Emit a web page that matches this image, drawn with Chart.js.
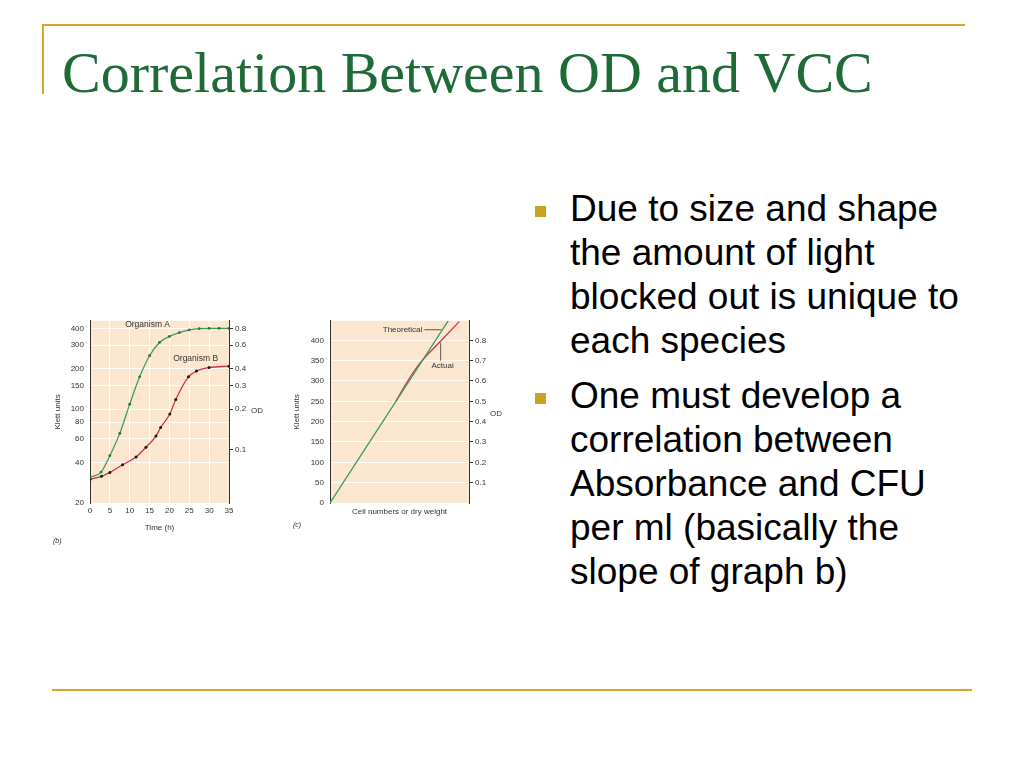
<!DOCTYPE html>
<html>
<head>
<meta charset="utf-8">
<script src="https://cdn.jsdelivr.net/npm/chart.js@4.4.1/dist/chart.umd.min.js"></script>
<style>
  body { margin: 0; background: #fff; }
  #slide { position: relative; width: 1024px; height: 768px; overflow: hidden; background: #fff; }
  .rule { position: absolute; background: #D6A62A; }
  #title { position: absolute; left: 62px; top: 41px; font-family: "Liberation Serif", "DejaVu Serif", serif;
           font-size: 58px; line-height: 64px; color: #1E6B38; white-space: nowrap; }
  #bullets { position: absolute; left: 570px; top: 187px; font-family: "Liberation Sans", Arial, sans-serif;
             font-size: 37px; line-height: 44px; color: #000; white-space: nowrap; }
  #bullets p { margin: 0 0 11px 0; position: relative; }
  #bullets p::before { content: ""; position: absolute; left: -35px; top: 19px; width: 11px; height: 11px; background: #C9A123; }
  canvas { position: absolute; }
</style>
</head>
<body>
<div id="slide">
  <div class="rule" style="left:42px; top:24px; width:923px; height:2px;"></div>
  <div class="rule" style="left:42px; top:24px; width:2px; height:70px;"></div>
  <div class="rule" style="left:52px; top:689px; width:920px; height:2px;"></div>
  <div id="title">Correlation Between OD and VCC</div>
  <div id="bullets">
    <p>Due to size and shape<br>the amount of light<br>blocked out is unique to<br>each species</p>
    <p>One must develop a<br>correlation between<br>Absorbance and CFU<br>per ml (basically the<br>slope of graph b)</p>
  </div>
  <canvas id="chartB" width="230" height="240" style="left:40px; top:310px;"></canvas>
  <canvas id="chartC" width="240" height="230" style="left:280px; top:310px;"></canvas>
</div>
<script>
// graph (b): growth curves, Klett units (log) vs time
const timeA = [0, 2.8, 5, 7.5, 10, 12.5, 15, 17.5, 20, 22.5, 25, 27.5, 30, 32.5, 35];
const klettA = [31, 34, 45, 66, 109, 174, 250, 314, 348, 372, 389, 398, 400, 400, 400];
const timeB = [0, 2.9, 5, 8.2, 11.6, 14.1, 16.6, 17.8, 20.1, 21.6, 24.8, 26.8, 30, 35];
const klettB = [30, 31.6, 33.8, 38.5, 44, 52, 63, 73, 92, 118, 174, 192, 204, 209];
const bTimeTicks = [0, 5, 10, 15, 20, 25, 30, 35];
const bKlettTicks = [20, 40, 60, 80, 100, 150, 200, 300, 400];
const bOdTicks = [0.1, 0.2, 0.3, 0.4, 0.6, 0.8];

// graph (c): Klett units vs cell numbers
const cellTheo = [0, 85];
const klettTheo = [0, 448];
const cellActual = [0, 47.4, 55, 65, 79, 93];
const klettActual = [0, 250, 295, 345, 396, 446];
const cKlettTicks = [0, 50, 100, 150, 200, 250, 300, 350, 400];
const cOdTicks = [0.1, 0.2, 0.3, 0.4, 0.5, 0.6, 0.7, 0.8];

const PEACH = '#FBE7D0';
const GRID = 'rgba(255,255,255,0.85)';
const GREEN = '#3E9C5C';
const RED = '#CC3547';
const INK = '#333';
const FONT = { family: '"Liberation Sans", Arial, sans-serif', size: 8 };

const pts = (xs, ys) => xs.map((x, i) => ({ x: x, y: ys[i] }));
const fixTicks = arr => scale => { scale.ticks = arr.map(v => ({ value: v })); };

function drawText(ctx, txt, x, y, opts) {
    opts = opts || {};
    ctx.save();
    ctx.font = (opts.italic ? 'italic ' : '') + (opts.size || 8) + 'px "Liberation Sans", Arial, sans-serif';
    ctx.fillStyle = INK;
    ctx.textAlign = opts.align || 'center';
    ctx.textBaseline = 'middle';
    ctx.translate(x, y);
    if (opts.rotate) ctx.rotate(opts.rotate);
    ctx.fillText(txt, 0, 0);
    ctx.restore();
}

const peachBg = {
    id: 'peachBg',
    beforeDraw(chart) {
        const a = chart.chartArea, ctx = chart.ctx;
        ctx.save();
        ctx.fillStyle = PEACH;
        ctx.fillRect(a.left, a.top, a.right - a.left, a.bottom - a.top);
        ctx.restore();
    }
};

function axisStyle(extra) {
    return Object.assign({
        border: { display: true, color: INK, width: 1 },
        ticks: { color: INK, font: FONT, padding: 6, autoSkip: false, callback: v => String(v) }
    }, extra);
}

// ---- chart (b)
new Chart(document.getElementById('chartB'), {
    type: 'line',
    data: {
        datasets: [
            { data: pts(timeA, klettA), borderColor: GREEN, borderWidth: 1.3, pointRadius: 1.4,
              pointBackgroundColor: '#2F6F45', pointBorderWidth: 0, cubicInterpolationMode: 'monotone' },
            { data: pts(timeB, klettB), borderColor: RED, borderWidth: 1.3, pointRadius: 1.5,
              pointBackgroundColor: '#1a1a1a', pointBorderWidth: 0, cubicInterpolationMode: 'monotone' }
        ]
    },
    options: {
        responsive: false, animation: false,
        layout: { padding: { top: 8 } },
        plugins: { legend: { display: false }, tooltip: { enabled: false } },
        scales: {
            x: axisStyle({
                type: 'linear', min: 0, max: 35,
                border: { display: false },
                grid: { color: GRID, drawTicks: false },
                ticks: { color: INK, font: FONT, padding: 3, autoSkip: false, callback: v => String(v) },
                afterBuildTicks: fixTicks(bTimeTicks),
                afterFit: s => { s.height = 47; }
            }),
            y: axisStyle({
                type: 'logarithmic', position: 'left', min: 20, max: 455,
                grid: { color: GRID, drawTicks: false },
                afterBuildTicks: fixTicks(bKlettTicks),
                afterFit: s => { s.width = 50; }
            }),
            od: axisStyle({
                type: 'logarithmic', position: 'right', min: 20 / 500, max: 455 / 500,
                grid: { drawOnChartArea: false, color: INK, tickLength: 4 },
                ticks: { color: INK, font: FONT, padding: 2, autoSkip: false, callback: v => String(v) },
                afterBuildTicks: fixTicks(bOdTicks),
                afterFit: s => { s.width = 41; }
            })
        }
    },
    plugins: [peachBg, {
        id: 'labelsB',
        afterDraw(chart) {
            const ctx = chart.ctx, a = chart.chartArea, x = chart.scales.x, y = chart.scales.y;
            drawText(ctx, 'Organism A', x.getPixelForValue(14.5), y.getPixelForValue(428), { size: 8.5 });
            drawText(ctx, 'Organism B', x.getPixelForValue(26.6), y.getPixelForValue(238), { size: 8.5 });
            drawText(ctx, 'Klett units', 18, (a.top + a.bottom) / 2, { rotate: -Math.PI / 2 });
            drawText(ctx, 'OD', a.right + 28, chart.scales.od.getPixelForValue(0.2) + 2);
            drawText(ctx, 'Time (h)', (a.left + a.right) / 2, a.bottom + 25);
            drawText(ctx, '(b)', 13, a.bottom + 38, { italic: true, size: 7, align: 'left' });
        }
    }]
});

// ---- chart (c)
new Chart(document.getElementById('chartC'), {
    type: 'line',
    data: {
        datasets: [
            { data: pts(cellTheo, klettTheo), borderColor: GREEN, borderWidth: 1.3, pointRadius: 0, tension: 0 },
            { data: pts(cellActual, klettActual), borderColor: RED, borderWidth: 1.3, pointRadius: 0,
              cubicInterpolationMode: 'monotone',
              segment: { borderColor: c => c.p0DataIndex === 0 ? 'rgba(0,0,0,0)' : RED } }
        ]
    },
    options: {
        responsive: false, animation: false,
        layout: { padding: { top: 7 } },
        plugins: { legend: { display: false }, tooltip: { enabled: false } },
        scales: {
            x: {
                type: 'linear', min: 0, max: 100,
                border: { display: false },
                grid: { display: false },
                ticks: { display: false },
                afterFit: s => { s.height = 37; }
            },
            y: axisStyle({
                type: 'linear', position: 'left', min: 0, max: 448,
                grid: { color: GRID, drawTicks: false },
                afterBuildTicks: fixTicks(cKlettTicks),
                afterFit: s => { s.width = 50; }
            }),
            od: axisStyle({
                type: 'linear', position: 'right', min: 0, max: 448 / 500,
                grid: { drawOnChartArea: false, color: INK, tickLength: 4 },
                ticks: { color: INK, font: FONT, padding: 2, autoSkip: false, callback: v => String(v) },
                afterBuildTicks: fixTicks(cOdTicks),
                afterFit: s => { s.width = 51; }
            })
        }
    },
    plugins: [peachBg, {
        id: 'labelsC',
        afterDraw(chart) {
            const ctx = chart.ctx, a = chart.chartArea, x = chart.scales.x, y = chart.scales.y;
            // Theoretical label with leader to the green line
            const ty = y.getPixelForValue(426);
            const tx = x.getPixelForValue(85 * 426 / 448);
            drawText(ctx, 'Theoretical', tx - 20, ty, { align: 'right' });
            // Actual label with vertical leader down from the red curve
            const ax = x.getPixelForValue(79.6);
            drawText(ctx, 'Actual', ax + 2, y.getPixelForValue(337));
            ctx.save();
            ctx.strokeStyle = INK; ctx.lineWidth = 0.8;
            ctx.beginPath();
            ctx.moveTo(tx - 18, ty); ctx.lineTo(tx - 1, ty);
            ctx.moveTo(ax, y.getPixelForValue(394)); ctx.lineTo(ax, y.getPixelForValue(350));
            ctx.stroke();
            ctx.restore();
            drawText(ctx, 'Klett units', 17, (a.top + a.bottom) / 2, { rotate: -Math.PI / 2 });
            drawText(ctx, 'OD', a.right + 27, chart.scales.od.getPixelForValue(0.45) + 2);
            drawText(ctx, 'Cell numbers or dry weight', (a.left + a.right) / 2, a.bottom + 9);
            drawText(ctx, '(c)', 13, a.bottom + 22, { italic: true, size: 7, align: 'left' });
        }
    }]
});
</script>
</body>
</html>
